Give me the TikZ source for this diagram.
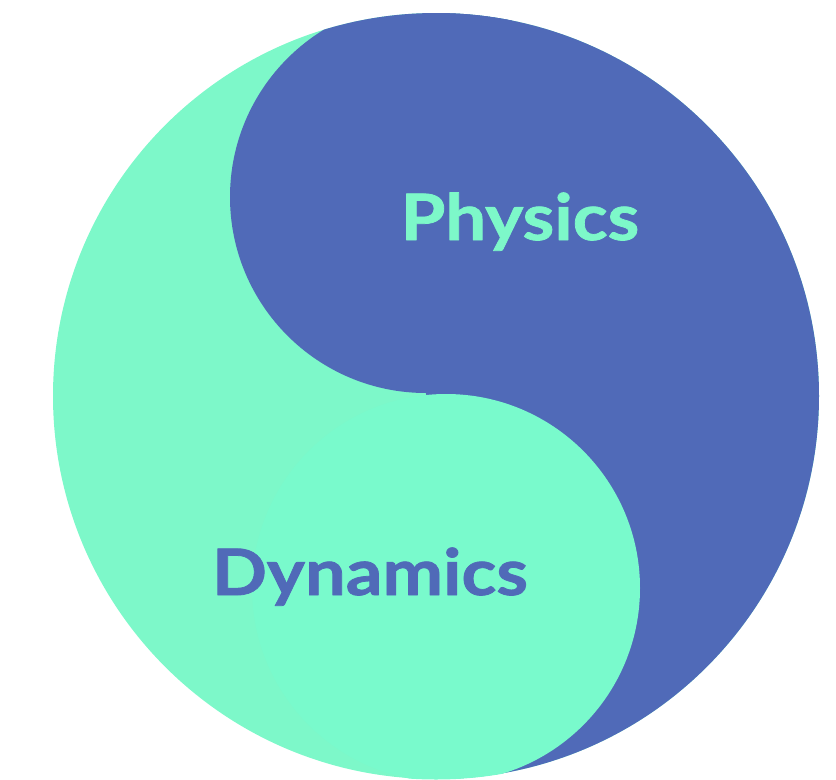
\documentclass[tikz,border=0pt]{standalone}
\usepackage{fontspec}
\setmainfont{Lato}
\newfontfamily\labelfont{Lato}[FakeStretch=1.13,FakeBold=1.2]
\definecolor{yyblue}{HTML}{506AB8}
\definecolor{yygreen}{HTML}{7DF8C9}
\definecolor{yymint}{HTML}{79FACC}
\tikzset{
  halflabel/.style={anchor=base,inner sep=0pt,
    font=\labelfont\bfseries\fontsize{48}{48}\selectfont}
}
\begin{document}
\begin{tikzpicture}[x=0.75pt,y=-0.75pt,line join=round]
  \useasboundingbox (0,0) rectangle (836,779);

  % Outer disc, light half first.
  \fill[yygreen] (436,396) circle (383);

  % Dark half: upper small disc plus right side, kept inside the outer disc.
  \begin{scope}
    \clip (436,396) circle (383);
    \fill[yyblue] (426,197) circle (196);
    \fill[yyblue] (426,0) rectangle (836,779);
  \end{scope}

  % Lower small disc sits on top of the dark half.
  \begin{scope}
    \clip (436,396) circle (383.5);
    \fill[yymint] (446,588) circle (194);
  \end{scope}

  \node[halflabel,text=yygreen] (physics) at (520,240) {Physics};
  \node[halflabel,text=yyblue] (dynamics) at (370,595) {Dynamics};
\end{tikzpicture}
\end{document}
